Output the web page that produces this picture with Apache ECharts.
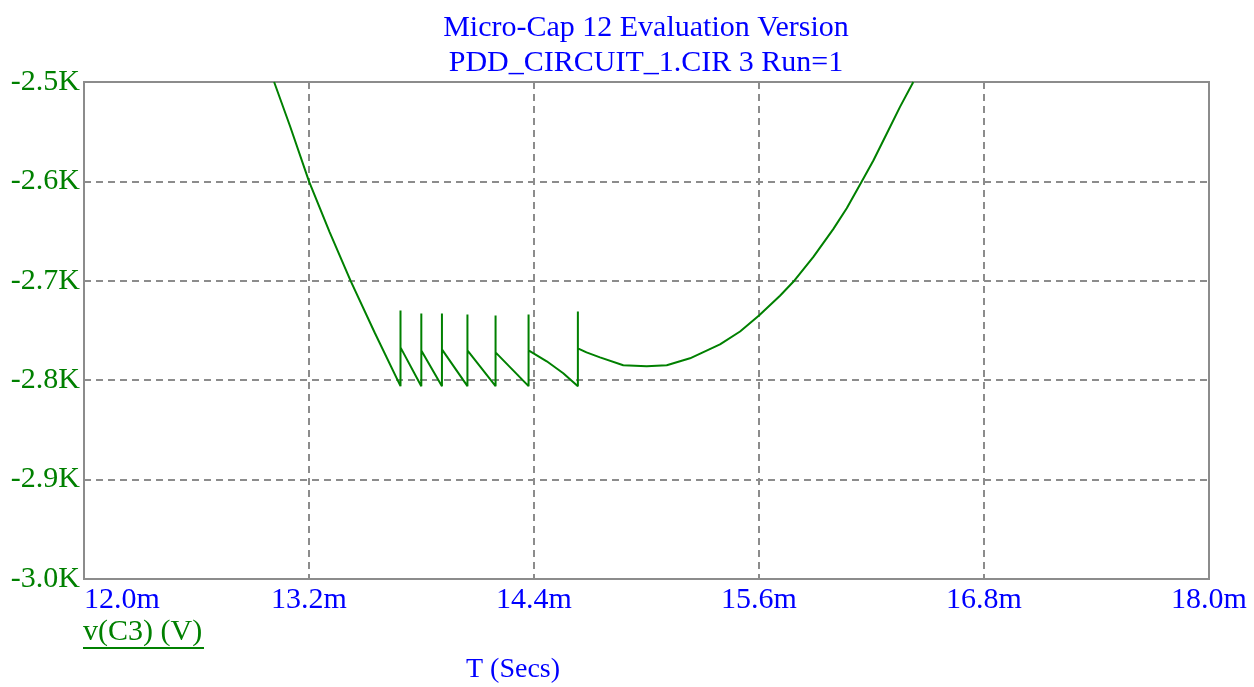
<!DOCTYPE html>
<html>
<head>
<meta charset="utf-8">
<title>v(C3) transient</title>
<script src="https://cdn.jsdelivr.net/npm/echarts@6/dist/echarts.min.js"></script>
<style>
  html, body { margin: 0; padding: 0; background: #ffffff; }
  #chart { width: 1254px; height: 687px; }
</style>
</head>
<body>
<div id="chart"></div>
<script>
// Transient waveform of v(C3): time in milliseconds, voltage in volts
const timeMs = [
  13.014, 13.1, 13.2, 13.31, 13.422, 13.55, 13.688,
  13.688, 13.688, 13.799,
  13.799, 13.799, 13.909,
  13.909, 13.909, 14.045,
  14.045, 14.045, 14.195,
  14.195, 14.195, 14.371,
  14.371, 14.371, 14.468, 14.556, 14.634,
  14.634, 14.634, 14.68, 14.752, 14.876, 15.001, 15.108, 15.232, 15.392, 15.499,
  15.6, 15.712, 15.783, 15.89, 15.996, 16.068, 16.148, 16.21, 16.281, 16.352, 16.423
];
const voltage = [
  -2500, -2545, -2600, -2651, -2700, -2752, -2806,
  -2730, -2767, -2806,
  -2733, -2770, -2806,
  -2733, -2769, -2806,
  -2734, -2770, -2806,
  -2735, -2772, -2806,
  -2734, -2770, -2781, -2793, -2806,
  -2731, -2768, -2772, -2777, -2785, -2786, -2785, -2778, -2764, -2751,
  -2735, -2715, -2701, -2676, -2648, -2627, -2600, -2579, -2552, -2525, -2500
];

const xRange = [12.0, 18.0];
const xStep = 1.2;
const yRange = [-3000, -2500];
const yStep = 100;

const titleLines = ['Micro-Cap 12 Evaluation Version', 'PDD_CIRCUIT_1.CIR 3 Run=1'];
const traceName = 'v(C3) (V)';
const xAxisTitle = 'T (Secs)';

const serif = '"Liberation Serif", "Times New Roman", serif';
const green = '#008000';
const blue = '#0000ff';
const gridGray = '#8c8c8c';

const chart = echarts.init(document.getElementById('chart'), null, { renderer: 'canvas' });

chart.setOption({
  animation: false,
  backgroundColor: '#ffffff',
  grid: {
    left: 84, top: 82, right: 45, bottom: 108,
    show: true, borderColor: gridGray, borderWidth: 2, backgroundColor: 'transparent'
  },
  xAxis: {
    type: 'value',
    min: xRange[0], max: xRange[1], interval: xStep,
    axisLine: { show: false },
    axisTick: { show: false },
    splitLine: { show: true, lineStyle: { color: gridGray, width: 2, type: [7, 5] } },
    axisLabel: {
      color: blue, fontFamily: serif, fontSize: 30, margin: 6,
      alignMinLabel: 'left',
      formatter: v => v.toFixed(1) + 'm'
    }
  },
  yAxis: {
    type: 'value',
    min: yRange[0], max: yRange[1], interval: yStep,
    axisLine: { show: false },
    axisTick: { show: false },
    splitLine: { show: true, lineStyle: { color: gridGray, width: 2, type: [7, 5] } },
    axisLabel: {
      color: green, fontFamily: serif, fontSize: 30, margin: 4,
      formatter: v => (v / 1000).toFixed(1) + 'K'
    }
  },
  series: [{
    type: 'line',
    data: timeMs.map((t, i) => [t, voltage[i]]),
    showSymbol: false,
    smooth: false,
    clip: true,
    lineStyle: { color: green, width: 2 },
    z: 5
  }],
  graphic: [
    {
      type: 'text', x: 646, y: 13,
      style: { text: titleLines[0], fill: blue, font: '30px ' + serif, align: 'center', verticalAlign: 'top' }
    },
    {
      type: 'text', x: 646, y: 48,
      style: { text: titleLines[1], fill: blue, font: '30px ' + serif, align: 'center', verticalAlign: 'top' }
    },
    {
      type: 'text', left: 83, top: 617,
      style: { text: traceName, fill: green, font: '30px ' + serif }
    },
    {
      type: 'line', shape: { x1: 83, y1: 648, x2: 204, y2: 648 },
      style: { stroke: green, lineWidth: 2 }
    },
    {
      type: 'text', left: 466, top: 656,
      style: { text: xAxisTitle, fill: blue, font: '28px ' + serif }
    }
  ]
});
</script>
</body>
</html>
